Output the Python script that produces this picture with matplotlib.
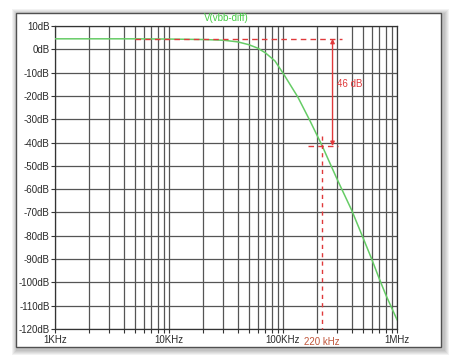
import numpy as np
import matplotlib
matplotlib.use('Agg')
import matplotlib.pyplot as plt
from matplotlib.patches import Rectangle
from matplotlib.ticker import FixedLocator, LogLocator, NullFormatter

plt.rcParams['font.family'] = ['Liberation Sans', 'DejaVu Sans']

# Frequency response (Hz, dB)
freq_hz = [1e3, 5e3, 10e3, 20e3, 30e3, 40e3, 50e3, 60e3, 70e3, 85e3, 100e3,
           135e3, 173e3, 220e3, 300e3, 400e3, 500e3, 600e3, 700e3, 800e3, 1e6]
gain_db = [4.5, 4.5, 4.4, 4.2, 3.9, 3.2, 2.0, 0.5, -1.5, -5.0, -10.2,
           -20.5, -30.8, -41.3, -56.0, -69.0, -80.5, -90.0, -98.5, -105.5, -116.0]

y_ticks = list(range(10, -121, -10))
y_labels = ['%ddB' % v for v in y_ticks]
x_ticks = [1e3, 1e4, 1e5, 1e6]
x_labels = ['1KHz', '10KHz', '100KHz', '1MHz']

# annotation values
pass_db = 4.5
stop_db = -41.5
corner_hz = 220e3
arrow_hz = 272e3

red = '#e0393b'
grid_c = '#555555'
text_c = '#2a2a2a'

fig = plt.figure(figsize=(4.56, 3.59), dpi=100)
fig.patch.set_facecolor('white')

# soft shadow + framed panel
W, H = 456.0, 359.0
x0, y0, x1, y1 = 16, 13, 441, 347
for i in range(5):
    d = 6 - i
    fig.patches.append(Rectangle(((x0 - d + 2) / W, 1 - (y1 + d + 2) / H),
                                 (x1 - x0 + 2 * d) / W, (y1 - y0 + 2 * d) / H,
                                 transform=fig.transFigure, facecolor='black',
                                 edgecolor='none', alpha=0.05, zorder=0))
fig.patches.append(Rectangle((x0 / W, 1 - y1 / H), (x1 - x0) / W, (y1 - y0) / H,
                             transform=fig.transFigure, facecolor='white',
                             edgecolor='#505050', lw=1.0, zorder=1))

ax = fig.add_axes([55 / W, 1 - 329 / H, (397 - 55) / W, (329 - 26) / H])
ax.set_zorder(2)
ax.set_xscale('log')
ax.set_xlim(1e3, 1e6)
ax.set_ylim(-120, 10)

ax.xaxis.set_major_locator(FixedLocator(x_ticks))
ax.set_xticklabels(x_labels)
ax.xaxis.set_minor_locator(LogLocator(base=10, subs=np.arange(2, 10)))
ax.xaxis.set_minor_formatter(NullFormatter())
ax.set_yticks(y_ticks)
ax.set_yticklabels(y_labels)

ax.grid(True, which='both', axis='x', color=grid_c, lw=0.9)
ax.grid(True, which='major', axis='y', color=grid_c, lw=0.9)
ax.tick_params(axis='both', which='both', direction='out', length=3, width=0.8,
               labelsize=7, labelcolor=text_c, color='#333333', pad=1)
for s in ax.spines.values():
    s.set_color('#333333')
    s.set_linewidth(0.9)

# response curve
ax.plot(freq_hz, gain_db, color='#66cc66', lw=1.1, zorder=3)
ax.text(0.5, 1.01, 'V(vbb-diff)', transform=ax.transAxes, ha='center',
        va='bottom', color='#44cc44', fontsize=7)

# markers
ax.plot([5e3, 330e3], [pass_db, pass_db], color=red, ls=(0, (4, 3)), lw=1.0, zorder=4)
ax.plot([166e3, 303e3], [stop_db, stop_db], color=red, ls=(0, (4, 3)), lw=1.0, zorder=4)
ax.plot([corner_hz, corner_hz], [-37, -120], color=red, ls=(0, (3, 3)), lw=1.0,
        zorder=4, clip_on=False)
ax.annotate('', xy=(arrow_hz, stop_db), xytext=(arrow_hz, pass_db),
            arrowprops=dict(arrowstyle='<|-|>', color=red, lw=1.0,
                            mutation_scale=6, shrinkA=0, shrinkB=0), zorder=5)
ax.text(298e3, -14.8, '46 dB', color=red, fontsize=7, ha='left', va='center')
ax.text(corner_hz, -123.5, '220 kHz', color='#c0553a', fontsize=7,
        ha='center', va='top')

plt.savefig('out.png', dpi=100, facecolor=fig.get_facecolor())
